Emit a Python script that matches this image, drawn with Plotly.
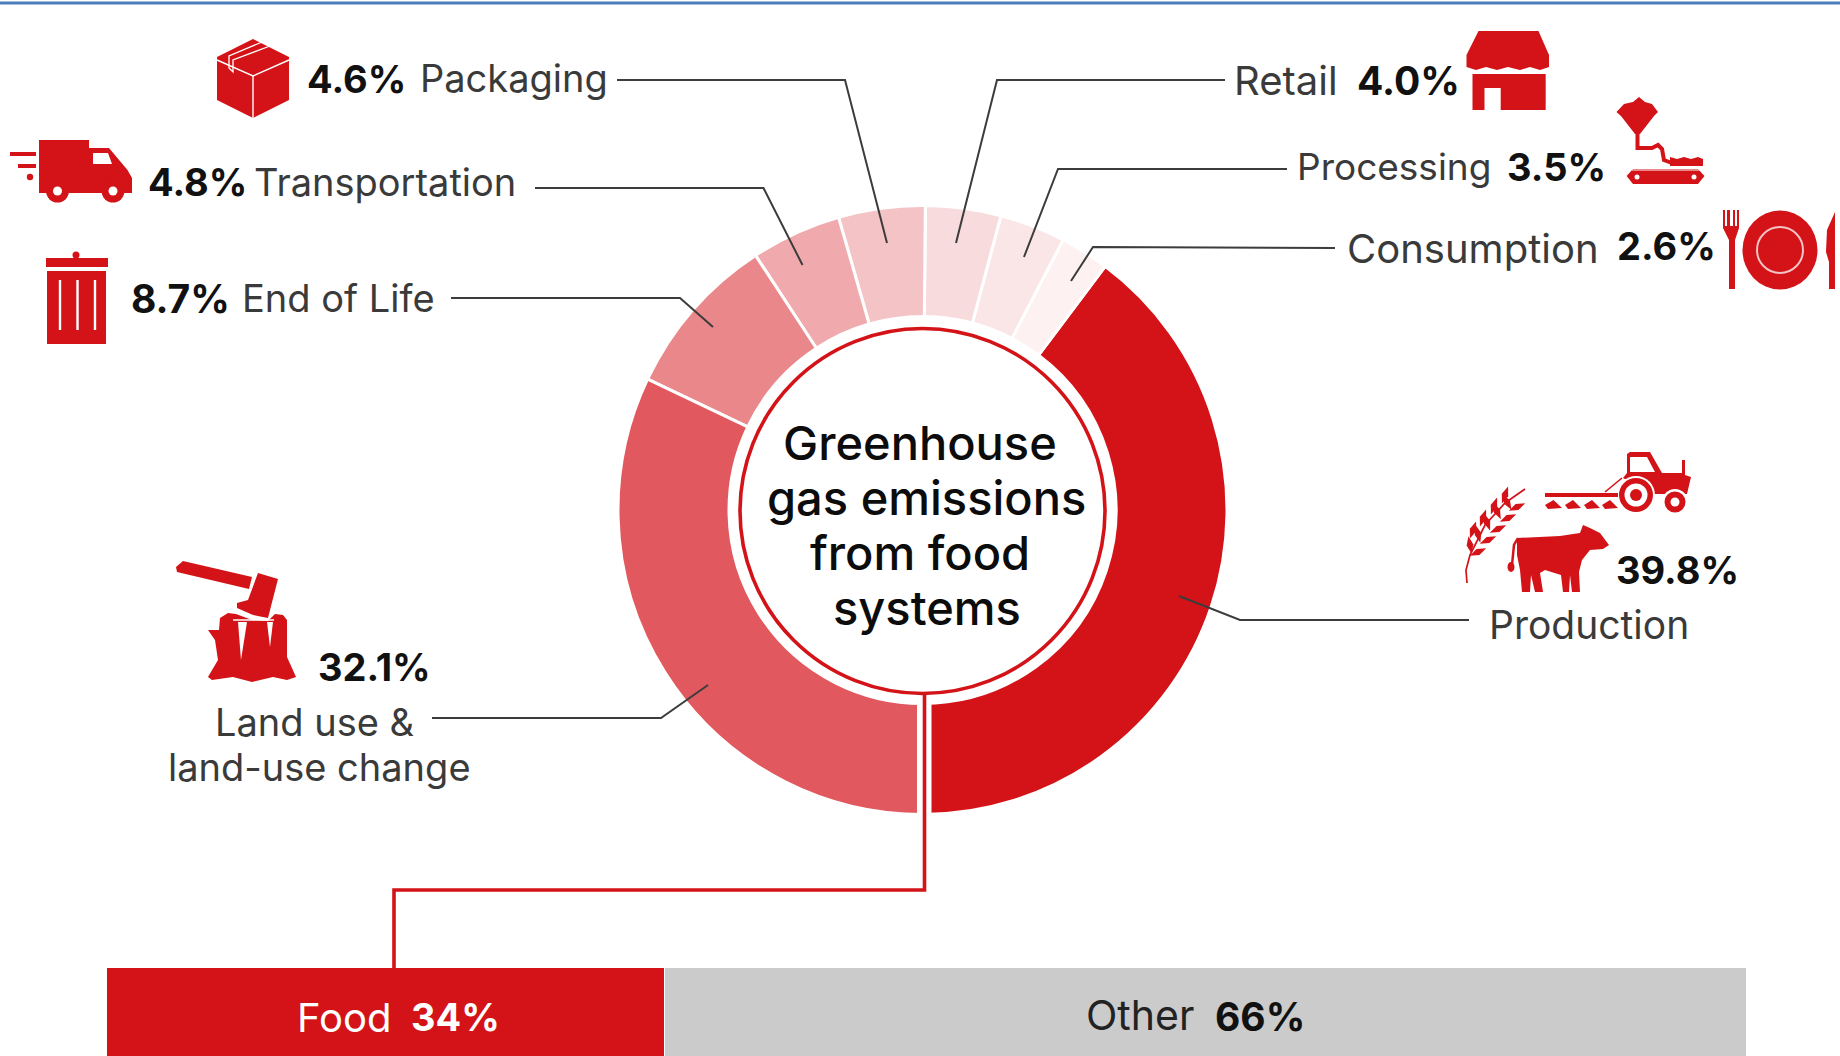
import re
import math
import plotly.graph_objects as go

W, H = 1840, 1056

# ---- data ----
categories = ["Production", "Consumption", "Processing", "Retail", "Packaging",
              "Transportation", "End of Life", "Land use & land-use change"]
shares = [39.8, 2.6, 3.5, 4.0, 4.6, 4.8, 8.7, 32.1]
slice_colors = ["#D31317", "#FDF1F1", "#FBE6E7", "#F8DCDD", "#F4C3C5", "#F0AAAD", "#E9878A", "#E1595E"]
bar_labels = ["Food", "Other"]
bar_values = [34, 66]
bar_colors = ["#D31317", "#CBCBCB"]
center_lines = ["Greenhouse", "gas emissions", "from food", "systems"]

RED = "#D31317"
FONT = "Inter"
NAME_C = "#3a3a3a"
PCT_C = "#111111"


def px(x):
    return x / W


def py(y):
    return 1 - y / H


def conv_path(d):
    """Path written in page pixels -> paper coordinates."""
    toks = re.findall(r"[A-Za-z]|-?\d+\.?\d*", d)
    out, is_x = [], True
    for t in toks:
        if t.isalpha():
            out.append(t)
            is_x = True
        else:
            out.append(f"{px(float(t)) if is_x else py(float(t)):.6f}")
            is_x = not is_x
    return " ".join(out)


shapes = []


def poly(points, color=RED, close=True):
    d = "M " + " L ".join(f"{x} {y}" for x, y in points) + (" Z" if close else "")
    shapes.append(dict(type="path", path=conv_path(d), xref="paper", yref="paper",
                       fillcolor=color, line=dict(width=0), layer="above"))


def line(points, color="#3c3c3c", width=2.0):
    d = "M " + " L ".join(f"{x} {y}" for x, y in points)
    shapes.append(dict(type="path", path=conv_path(d), xref="paper", yref="paper",
                       line=dict(color=color, width=width), layer="above"))


def ellipse(cx, cy, rx, ry=None, fill=RED, border=None, bw=0):
    ry = rx if ry is None else ry
    shapes.append(dict(type="circle", xref="paper", yref="paper",
                       x0=px(cx - rx), x1=px(cx + rx), y0=py(cy + ry), y1=py(cy - ry),
                       fillcolor=fill, line=dict(color=border or fill, width=bw), layer="above"))


def rect(x0, y0, x1, y1, fill=RED):
    shapes.append(dict(type="rect", xref="paper", yref="paper",
                       x0=px(x0), x1=px(x1), y0=py(y1), y1=py(y0),
                       fillcolor=fill, line=dict(width=0), layer="above"))


# top rule
rect(0, 1.5, W, 4.5, "#4A7EBB")

# white gap at the ring's bottom, inner circle, red connector
rect(917, 690, 931.5, 820, "#FFFFFF")
ellipse(922.5, 511, 182.5, fill="#FFFFFF", border=RED, bw=3.6)
line([(924.5, 693), (924.5, 890), (394, 890), (394, 968)], RED, 3.6)

# leader lines
leaders = [
    [(617, 80), (845, 80), (887, 243)],
    [(535, 188), (763.5, 188), (802.5, 265)],
    [(451, 298), (680, 298), (713, 327)],
    [(1225, 80), (997, 80), (956, 243)],
    [(1287, 169), (1058, 169), (1024, 257)],
    [(1335, 248), (1093, 247), (1071, 281)],
    [(1179, 596), (1240, 620), (1469, 620)],
    [(708, 685), (661, 718), (432, 718)],
]
for l in leaders:
    line(l)

# --- icons ---
# box
poly([(253, 39), (289, 57), (289, 100), (253, 118), (217, 100), (217, 57)])
line([(217, 60), (253, 76), (289, 60)], "#FFFFFF", 1.4)
line([(253, 76), (253, 118)], "#FFFFFF", 1.4)
line([(262, 42), (229, 56), (229, 68), (233, 72), (233, 60), (270, 46)], "#FFFFFF", 1.3)

# truck
poly([(39, 140), (89, 140), (89, 148), (109, 148), (127.5, 170), (132, 178), (132, 193), (39, 193)])
poly([(93, 153), (108, 153), (112, 164), (93, 164)], "#FFFFFF")
for cx in (57.5, 113):
    ellipse(cx, 191, 11.5)
    ellipse(cx, 191, 4.5, fill="#FFFFFF")
rect(10, 152, 36, 156)
rect(18, 164, 36, 168)
ellipse(30, 177, 3.2)

# trash can
rect(46, 258, 108, 267)
ellipse(76, 255, 3.5)
rect(47, 271, 106, 344)
for x in (60, 77.5, 95):
    line([(x, 280), (x, 330)], "#FFFFFF", 2.4)

# store
poly([(1478.5, 31), (1538.5, 31), (1549, 55), (1549, 67), (1540, 70), (1530, 67), (1520, 70), (1508, 67),
      (1497, 70), (1486, 67), (1476, 70), (1466.5, 67), (1466.5, 55)])
poly([(1472.5, 74), (1545.7, 74), (1545.7, 110), (1500.7, 110), (1500.7, 88), (1484.5, 88), (1484.5, 110), (1472.5, 110)])

# processing line
poly([(1633, 102), (1639, 97), (1645, 102), (1652, 104), (1658, 112), (1654, 116), (1640, 134), (1635, 134), (1621, 116), (1616.5, 112), (1624, 104)])
line([(1637.5, 133), (1637.5, 148), (1652, 148), (1658, 145), (1662, 149), (1664, 160), (1672, 163)], RED, 4)
poly([(1670, 157), (1677, 159), (1684, 157), (1691, 159), (1698, 157), (1703, 159), (1703, 166), (1670, 166)])
poly([(1633, 169), (1698, 169), (1704.5, 176), (1698, 184), (1633, 184), (1626.6, 176)])
line([(1632, 170), (1700, 170)], "#FFFFFF", 1.2)
ellipse(1637, 177, 2.5, fill="#FFFFFF")
ellipse(1694, 177, 2.5, fill="#FFFFFF")

# plate, fork, knife
ellipse(1780, 250, 37.5, 39.5)
ellipse(1780, 250, 23, fill="rgba(0,0,0,0)", border="#F4C3C5", bw=2)
poly([(1723, 210), (1725, 210), (1725, 226), (1727, 226), (1727, 210), (1730, 210), (1730, 226), (1733, 226),
      (1733, 210), (1735, 210), (1735, 226), (1737, 226), (1737, 210), (1739, 210), (1739, 228), (1735, 240),
      (1735, 289), (1729, 289), (1729, 240), (1723, 228)])
poly([(1835, 212), (1835, 289), (1829, 289), (1829, 262), (1826, 252), (1827, 230)])

# axe and stump
poly([(176, 567), (183, 561), (252, 577), (249, 589), (177, 572)])
poly([(258, 573), (278, 579), (268, 618), (253, 615), (237, 608), (237, 603), (248, 600)])
poly([(220, 618), (228, 613), (236, 614), (252, 620), (268, 621), (275, 614), (283, 615), (287, 620), (287, 657),
      (296, 677), (287, 680), (273, 677), (252, 682), (233, 677), (212, 680), (208, 677), (218, 660), (215, 640),
      (208, 630), (219, 630)])
line([(233, 620), (274, 620)], "#FFFFFF", 1.5)
poly([(238, 622), (241, 660), (247, 622)], "#FFFFFF")
poly([(267, 622), (270, 647), (273, 622)], "#FFFFFF")

# tractor and plough
poly([(1627, 473), (1627, 454), (1630, 452), (1650, 452), (1662, 473), (1682, 473), (1682, 460), (1685, 460),
      (1685, 475), (1691, 477), (1687, 494), (1655, 494), (1623, 478)])
poly([(1630, 457), (1647, 457), (1655, 472), (1630, 472)], "#FFFFFF")
ellipse(1636, 495, 19, fill="#FFFFFF")
ellipse(1636, 495, 17)
ellipse(1636, 495, 11.5, fill="#FFFFFF")
ellipse(1636, 495, 6)
ellipse(1675, 502, 13, fill="#FFFFFF")
ellipse(1675, 502, 10.5)
ellipse(1675, 502, 4.5, fill="#FFFFFF")
rect(1545, 493, 1618, 497)
line([(1605, 492), (1622, 478)], RED, 1.6)
for a, b in [(1545, 1562), (1565, 1581), (1584, 1600), (1602, 1618)]:
    poly([(a, 505), ((a + b) / 2, 500), (b, 508), (a + 3, 509)])

# wheat
line([(1467, 583), (1466, 570), (1470, 555), (1485, 525), (1505, 503), (1525, 489)], RED, 1.7)
for gx, gy, ang in [(1470, 545, -100), (1478, 534, -105), (1487, 522, -110), (1497, 511, -115), (1507, 502, -120),
                    (1478, 552, -25), (1488, 540, -25), (1498, 529, -25), (1508, 518, -25), (1517, 507, -25),
                    (1473, 530, -70), (1483, 518, -70), (1494, 506, -70), (1505, 495, -70)]:
    c, s = math.cos(math.radians(ang)), math.sin(math.radians(ang))
    L, T = 9, 3.4
    poly([(gx - L * c, gy - L * s), (gx + T * s, gy - T * c), (gx + L * c, gy + L * s), (gx - T * s, gy + T * c)])

# cow
poly([(1517, 538), (1560, 536), (1580, 533), (1583, 525), (1590, 528), (1600, 533), (1609, 545), (1603, 549), (1590, 550),
      (1582, 560), (1579, 572), (1580, 592), (1572, 592), (1570, 575), (1569, 592), (1563, 592), (1561, 575),
      (1545, 570), (1540, 573), (1543, 592), (1535, 592), (1531, 575), (1530, 592), (1522, 592), (1520, 570), (1517, 555)])
line([(1518, 538), (1514, 545), (1512, 565)], RED, 2.5)
ellipse(1511, 567, 3.5, 5)

# --- text ---
ann = []
NAME_S, PCT_S = 38, 38


def text(s, x, y, size=NAME_S, color=NAME_C, bold=False, anchor="left", weight=400):
    ann.append(dict(text=s, x=px(x), y=py(y), xref="paper", yref="paper",
                    xanchor=anchor, yanchor="middle", showarrow=False,
                    font=dict(family=FONT, size=size, color=color, weight=700 if bold else weight),
                    borderpad=0, borderwidth=0))


def pct(v):
    return f"{v:.1f}%"


val = dict(zip(categories, shares))
text(pct(val["Packaging"]), 307, 79, PCT_S, PCT_C, True)
text("Packaging", 420, 78)
text(pct(val["Transportation"]), 148, 182, PCT_S, PCT_C, True)
text("Transportation", 254, 182)
text(pct(val["End of Life"]), 131, 298, 39, PCT_C, True)
text("End of Life", 242, 298)
text("Retail", 1234, 80, 40)
text(pct(val["Retail"]), 1357, 80, 39, PCT_C, True)
text("Processing", 1297, 166, 37)
text(pct(val["Processing"]), 1507, 167, PCT_S, PCT_C, True)
text("Consumption", 1347, 248, 40)
text(pct(val["Consumption"]), 1617, 246, PCT_S, PCT_C, True)
text(pct(val["Land use & land-use change"]), 318, 667, PCT_S, PCT_C, True)
text("Land use &amp;", 314, 722, anchor="center")
text("land-use change", 319, 767, anchor="center")
text(pct(val["Production"]), 1616, 570, PCT_S, PCT_C, True)
text("Production", 1489, 624, 39)

for s, x, y in zip(center_lines, [920, 926.5, 920, 926.5], [443, 497, 552, 607]):
    text(s, x, y, 47, "#0c0c0c", anchor="center", weight=500)

text(bar_labels[0], 297, 1017, 40, "#FFFFFF")
text(f"{bar_values[0]}%", 411, 1017, PCT_S, "#FFFFFF", True)
text(bar_labels[1], 1086, 1015, 41, "#222222")
text(f"{bar_values[1]}%", 1215, 1016, 39, PCT_C, True)

# --- figure ---
fig = go.Figure()
# plotly's counterclockwise first slice ends at `rotation`; Production starts at the bottom of the ring
rotation = 180 - shares[0] / sum(shares) * 360
fig.add_trace(go.Pie(
    labels=categories, values=shares, sort=False, direction="counterclockwise", rotation=rotation,
    hole=193.5 / 304.5, textinfo="none", hoverinfo="label+percent", showlegend=False,
    marker=dict(colors=slice_colors, line=dict(color="#FFFFFF", width=3)),
    domain=dict(x=[618 / W, 1227 / W], y=[1 - 814.5 / H, 1 - 205.5 / H]),
))
for name, v, c in zip(bar_labels, bar_values, bar_colors):
    fig.add_trace(go.Bar(y=[0], x=[v], name=name, orientation="h", width=1, showlegend=False,
                         marker=dict(color=c, line=dict(color="#FFFFFF", width=1.5))))

fig.update_layout(
    width=W, height=H, margin=dict(l=0, r=0, t=0, b=0, pad=0, autoexpand=False),
    paper_bgcolor="#FFFFFF", plot_bgcolor="#FFFFFF", barmode="stack", bargap=0,
    xaxis=dict(domain=[107 / W, 1747 / W], range=[0, 100], visible=False, fixedrange=True),
    yaxis=dict(domain=[0, 88 / H], range=[-0.45, 0.5], visible=False, fixedrange=True),
    shapes=shapes, annotations=ann,
)
fig.write_html("out.html", post_script="document.body.style.margin='0';", config=dict(displayModeBar=False))
